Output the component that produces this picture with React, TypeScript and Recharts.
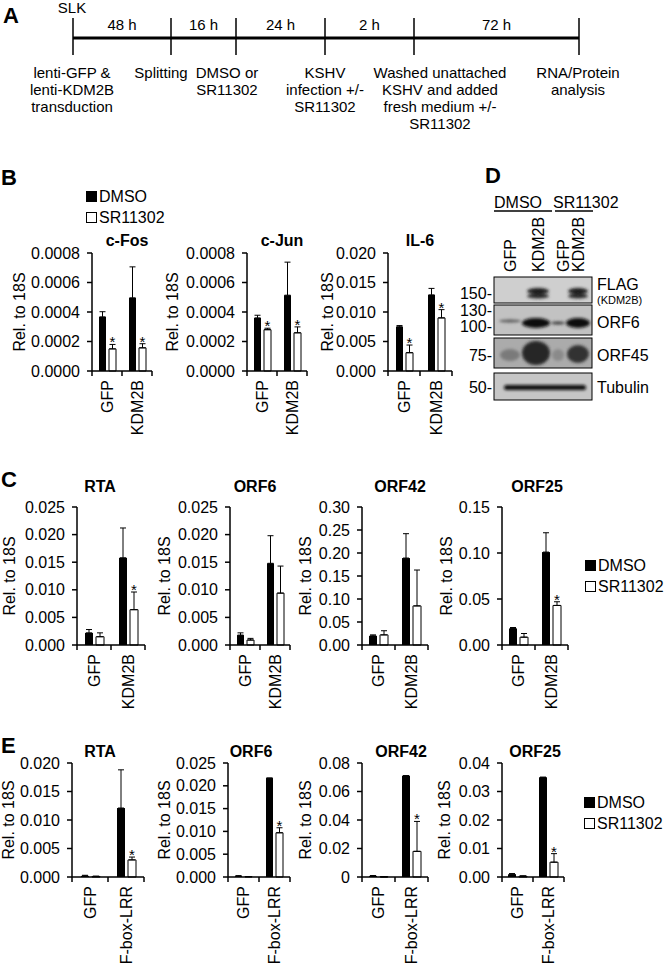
import React from 'react'
import { BarChart, Bar, XAxis, YAxis, ErrorBar, LabelList } from 'recharts'

const FONT = '"Liberation Sans", Arial, Helvetica, sans-serif'

// ---------- panel B ----------
const bCats = ['GFP', 'KDM2B']
const cFosDmso = [0.000367, 0.000496]
const cFosDmsoErr = [0.000035, 0.00021]
const cFosSr = [0.00015, 0.000157]
const cFosSrErr = [0.00003, 0.000028]
const cFosSig = [true, true]

const cJunDmso = [0.00036, 0.000514]
const cJunDmsoErr = [0.000018, 0.000224]
const cJunSr = [0.00028, 0.000259]
const cJunSrErr = [0.00001, 0.00004]
const cJunSig = [true, true]

const il6Dmso = [0.0075, 0.0129]
const il6DmsoErr = [0.0002, 0.0011]
const il6Sr = [0.0031, 0.009]
const il6SrErr = [0.0013, 0.0014]
const il6Sig = [true, true]

const fosJunTicks = ['0.0000', '0.0002', '0.0004', '0.0006', '0.0008']
const il6Ticks = ['0.000', '0.005', '0.010', '0.015', '0.020']

// ---------- panel C ----------
const cCats = ['GFP', 'KDM2B']
const cRtaDmso = [0.0022, 0.0158]
const cRtaDmsoErr = [0.0006, 0.0054]
const cRtaSr = [0.0015, 0.0064]
const cRtaSrErr = [0.0007, 0.0032]
const cRtaSig = [false, true]

const cOrf6Dmso = [0.0018, 0.0148]
const cOrf6DmsoErr = [0.0004, 0.005]
const cOrf6Sr = [0.0009, 0.0094]
const cOrf6SrErr = [0.0003, 0.0049]
const cOrf6Sig = [false, false]

const cOrf42Dmso = [0.02, 0.189]
const cOrf42DmsoErr = [0.002, 0.053]
const cOrf42Sr = [0.022, 0.085]
const cOrf42SrErr = [0.009, 0.078]
const cOrf42Sig = [false, false]

const cOrf25Dmso = [0.018, 0.101]
const cOrf25DmsoErr = [0.001, 0.021]
const cOrf25Sr = [0.0085, 0.043]
const cOrf25SrErr = [0.004, 0.004]
const cOrf25Sig = [false, true]

const smallTicks = ['0.000', '0.005', '0.010', '0.015', '0.020', '0.025']
const cOrf42Ticks = ['0.00', '0.05', '0.10', '0.15', '0.20', '0.25', '0.30']
const cOrf25Ticks = ['0.00', '0.05', '0.10', '0.15']

// ---------- panel E ----------
const eCats = ['GFP', 'F-box-LRR']
const eRtaDmso = [0.0002, 0.0121]
const eRtaDmsoErr = [0.0001, 0.0067]
const eRtaSr = [0.0001, 0.003]
const eRtaSrErr = [0.00005, 0.0005]
const eRtaSig = [false, true]

const eOrf6Dmso = [0.0002, 0.0217]
const eOrf6DmsoErr = [0.0001, 0]
const eOrf6Sr = [0.0001, 0.0097]
const eOrf6SrErr = [0, 0.0011]
const eOrf6Sig = [false, true]

const eOrf42Dmso = [0.0008, 0.0711]
const eOrf42DmsoErr = [0.0002, 0]
const eOrf42Sr = [0.0002, 0.018]
const eOrf42SrErr = [0, 0.021]
const eOrf42Sig = [false, true]

const eOrf25Dmso = [0.001, 0.035]
const eOrf25DmsoErr = [0.0002, 0]
const eOrf25Sr = [0.0003, 0.0052]
const eOrf25SrErr = [0.0001, 0.003]
const eOrf25Sig = [false, true]

const eRtaTicks = ['0.000', '0.005', '0.010', '0.015', '0.020']
const eOrf42Ticks = ['0', '0.02', '0.04', '0.06', '0.08']
const eOrf25Ticks = ['0.00', '0.01', '0.02', '0.03', '0.04']

// ---------- panel A ----------
const timelineTicks = [73, 171, 236, 325, 414, 579]
const durations = ['48 h', '16 h', '24 h', '2 h', '72 h']
const steps = [
  ['lenti-GFP &', 'lenti-KDM2B', 'transduction'],
  ['Splitting'],
  ['DMSO or', 'SR11302'],
  ['KSHV', 'infection +/-', 'SR11302'],
  ['Washed unattached', 'KSHV and added', 'fresh medium +/-', 'SR11302'],
  ['RNA/Protein', 'analysis'],
]
const stepCenters = [72, 161, 227, 325, 440, 578]

// ---------- panel D ----------
const blotLanes = ['GFP', 'KDM2B', 'GFP', 'KDM2B']
const blotMarkers = ['150-', '130-', '100-', '75-', '50-']

interface Spec {
  title: string
  cats: string[]
  dmso: number[]
  dmsoErr: number[]
  sr: number[]
  srErr: number[]
  sig: boolean[]
  ticks: string[]
  ax: number
  top: number
  bottom: number
  w: number
  bar: number
  titleX: number
  titleY: number
  ylabX: number
}

const specs: Spec[] = [
  { title: 'c-Fos', cats: bCats, dmso: cFosDmso, dmsoErr: cFosDmsoErr, sr: cFosSr, srErr: cFosSrErr, sig: cFosSig, ticks: fosJunTicks, ax: 92, top: 253, bottom: 371, w: 60, bar: 7, titleX: 127, titleY: 246, ylabX: 19 },
  { title: 'c-Jun', cats: bCats, dmso: cJunDmso, dmsoErr: cJunDmsoErr, sr: cJunSr, srErr: cJunSrErr, sig: cJunSig, ticks: fosJunTicks, ax: 247, top: 253, bottom: 371, w: 60, bar: 7, titleX: 282, titleY: 246, ylabX: 172 },
  { title: 'IL-6', cats: bCats, dmso: il6Dmso, dmsoErr: il6DmsoErr, sr: il6Sr, srErr: il6SrErr, sig: il6Sig, ticks: il6Ticks, ax: 388, top: 253, bottom: 371, w: 64, bar: 7, titleX: 420, titleY: 246, ylabX: 327 },

  { title: 'RTA', cats: cCats, dmso: cRtaDmso, dmsoErr: cRtaDmsoErr, sr: cRtaSr, srErr: cRtaSrErr, sig: cRtaSig, ticks: smallTicks, ax: 77, top: 507, bottom: 645, w: 68, bar: 8, titleX: 100, titleY: 492, ylabX: 9 },
  { title: 'ORF6', cats: cCats, dmso: cOrf6Dmso, dmsoErr: cOrf6DmsoErr, sr: cOrf6Sr, srErr: cOrf6SrErr, sig: cOrf6Sig, ticks: smallTicks, ax: 230, top: 507, bottom: 645, w: 60, bar: 7, titleX: 255, titleY: 492, ylabX: 164 },
  { title: 'ORF42', cats: cCats, dmso: cOrf42Dmso, dmsoErr: cOrf42DmsoErr, sr: cOrf42Sr, srErr: cOrf42SrErr, sig: cOrf42Sig, ticks: cOrf42Ticks, ax: 362, top: 507, bottom: 645, w: 66, bar: 8, titleX: 400, titleY: 492, ylabX: 305 },
  { title: 'ORF25', cats: cCats, dmso: cOrf25Dmso, dmsoErr: cOrf25DmsoErr, sr: cOrf25Sr, srErr: cOrf25SrErr, sig: cOrf25Sig, ticks: cOrf25Ticks, ax: 502, top: 507, bottom: 645, w: 66, bar: 8, titleX: 537, titleY: 492, ylabX: 446 },

  { title: 'RTA', cats: eCats, dmso: eRtaDmso, dmsoErr: eRtaDmsoErr, sr: eRtaSr, srErr: eRtaSrErr, sig: eRtaSig, ticks: eRtaTicks, ax: 72, top: 763, bottom: 877, w: 72, bar: 8, titleX: 100, titleY: 757, ylabX: 8 },
  { title: 'ORF6', cats: eCats, dmso: eOrf6Dmso, dmsoErr: eOrf6DmsoErr, sr: eOrf6Sr, srErr: eOrf6SrErr, sig: eOrf6Sig, ticks: smallTicks, ax: 228, top: 763, bottom: 877, w: 62, bar: 7, titleX: 251, titleY: 757, ylabX: 164 },
  { title: 'ORF42', cats: eCats, dmso: eOrf42Dmso, dmsoErr: eOrf42DmsoErr, sr: eOrf42Sr, srErr: eOrf42SrErr, sig: eOrf42Sig, ticks: eOrf42Ticks, ax: 362, top: 763, bottom: 877, w: 66, bar: 8, titleX: 401, titleY: 757, ylabX: 305 },
  { title: 'ORF25', cats: eCats, dmso: eOrf25Dmso, dmsoErr: eOrf25DmsoErr, sr: eOrf25Sr, srErr: eOrf25SrErr, sig: eOrf25Sig, ticks: eOrf25Ticks, ax: 502, top: 763, bottom: 877, w: 62, bar: 8, titleX: 535, titleY: 757, ylabX: 444 },
]

const YW = 70
const MT = 12
const MR = 8
const XH = 95

function MiniChart({ s }: { s: Spec }) {
  const plotH = s.bottom - s.top
  const tickVals = s.ticks.map(Number)
  const max = tickVals[tickVals.length - 1]
  const band = s.w / s.cats.length
  const axisY = MT + plotH
  const rows = s.cats.map((c, i) => ({
    cat: c,
    dmso: s.dmso[i],
    dmsoErr: [0, s.dmsoErr[i]],
    sr: s.sr[i],
    srErr: [0, s.srErr[i]],
  }))

  const catTick = (p: any) => {
    const { x, payload, index } = p
    const left = x - band / 2
    return (
      <g>
        <line x1={left} x2={left} y1={axisY} y2={axisY + 5} stroke="#000" strokeWidth={1.5} />
        {index === s.cats.length - 1 && (
          <line x1={x + band / 2} x2={x + band / 2} y1={axisY} y2={axisY + 5} stroke="#000" strokeWidth={1.5} />
        )}
        <text
          transform={`translate(${x},${axisY + 9}) rotate(-90)`}
          textAnchor="end"
          dominantBaseline="central"
          fontSize={16}
          fill="#000"
        >
          {payload.value}
        </text>
      </g>
    )
  }

  // asterisk sits just above the SR11302 error bar cap
  const star = (p: any) => {
    const i = p.index
    if (i == null || !s.sig[i]) return null
    const vb = p.viewBox || {}
    const bx = p.x ?? vb.x
    const bw = p.width ?? vb.width
    const y = MT + plotH * (1 - (s.sr[i] + s.srErr[i]) / max)
    return (
      <text x={bx + bw / 2} y={y + 3} textAnchor="middle" fontSize={15} fill="#000">
        *
      </text>
    )
  }

  return (
    <div style={{ position: 'absolute', left: s.ax - YW, top: s.top - MT, fontFamily: FONT }}>
      <BarChart
        width={YW + s.w + MR}
        height={MT + plotH + XH}
        data={rows}
        margin={{ top: MT, right: MR, bottom: 0, left: 0 }}
        barGap={3}
        barCategoryGap={0}
      >
        <XAxis
          dataKey="cat"
          height={XH}
          interval={0}
          axisLine={{ stroke: '#000', strokeWidth: 1.5 }}
          tickLine={false}
          tick={catTick}
        />
        <YAxis
          width={YW}
          domain={[0, max]}
          ticks={tickVals}
          interval={0}
          tickFormatter={(v: number) => s.ticks[tickVals.indexOf(v)] ?? String(v)}
          tick={{ fontSize: 16, fill: '#000' }}
          tickSize={5}
          tickMargin={7}
          axisLine={{ stroke: '#000', strokeWidth: 1.5 }}
          tickLine={{ stroke: '#000', strokeWidth: 1.5 }}
        />
        <Bar dataKey="dmso" fill="#000" barSize={s.bar} isAnimationActive={false}>
          <ErrorBar dataKey="dmsoErr" width={3} stroke="#000" strokeWidth={1} direction="y" />
        </Bar>
        <Bar dataKey="sr" fill="#fff" stroke="#000" strokeWidth={1} barSize={s.bar} isAnimationActive={false}>
          <ErrorBar dataKey="srErr" width={3} stroke="#000" strokeWidth={1} direction="y" />
          <LabelList dataKey="sr" content={star} />
        </Bar>
      </BarChart>
    </div>
  )
}

function Legend({ x, y }: { x: number; y: number }) {
  return (
    <g fontSize={16}>
      <rect x={x} y={y} width={11} height={11} fill="#000" />
      <text x={x + 13} y={y + 11}>DMSO</text>
      <rect x={x + 0.5} y={y + 21.5} width={10} height={10} fill="#fff" stroke="#000" strokeWidth={1} />
      <text x={x + 13} y={y + 32}>SR11302</text>
    </g>
  )
}

function Overlay() {
  const lanesX = [510, 538, 563, 578]
  const markerY = [293, 310, 326, 355, 387]
  return (
    <svg
      width={666}
      height={972}
      style={{ position: 'absolute', left: 0, top: 0, pointerEvents: 'none', fontFamily: FONT }}
    >
      <defs>
        <filter id="blur" x="-20%" y="-50%" width="140%" height="200%">
          <feGaussianBlur stdDeviation="1.6" />
        </filter>
      </defs>

      {/* panel letters */}
      <g fontSize={22} fontWeight="bold">
        <text x={3} y={23}>A</text>
        <text x={1} y={185}>B</text>
        <text x={1} y={487}>C</text>
        <text x={485} y={183}>D</text>
        <text x={1} y={753}>E</text>
      </g>

      {/* panel A timeline */}
      <g fontSize={15}>
        <text x={72} y={13} textAnchor="middle">SLK</text>
        <line x1={timelineTicks[0]} x2={timelineTicks[timelineTicks.length - 1]} y1={38} y2={38} stroke="#000" strokeWidth={3} />
        {timelineTicks.map((t) => (
          <line key={t} x1={t} x2={t} y1={18} y2={55} stroke="#000" strokeWidth={1.5} />
        ))}
        {durations.map((d, i) => (
          <text key={i} x={(timelineTicks[i] + timelineTicks[i + 1]) / 2} y={30} textAnchor="middle">
            {d}
          </text>
        ))}
        {steps.map((lines, i) =>
          lines.map((l, j) => (
            <text key={`${i}-${j}`} x={stepCenters[i]} y={78 + j * 17} textAnchor="middle">
              {l}
            </text>
          ))
        )}
      </g>

      {/* chart titles and y labels */}
      {specs.map((s, i) => (
        <g key={i} fontSize={16}>
          <text x={s.titleX} y={s.titleY} textAnchor="middle" fontWeight="bold">
            {s.title}
          </text>
          <text
            transform={`translate(${s.ylabX},${(s.top + s.bottom) / 2}) rotate(-90)`}
            textAnchor="middle"
            dominantBaseline="central"
          >
            Rel. to 18S
          </text>
        </g>
      ))}

      <Legend x={86} y={191} />
      <Legend x={585} y={560} />
      <Legend x={584} y={797} />

      {/* panel D western blot */}
      <g fontSize={16}>
        <text x={494} y={208}>DMSO</text>
        <line x1={494} x2={552} y1={211} y2={211} stroke="#000" strokeWidth={1.5} />
        <text x={553} y={208}>SR11302</text>
        <line x1={555} x2={593} y1={211} y2={211} stroke="#000" strokeWidth={1.5} />
        {blotLanes.map((l, i) => (
          <text key={i} transform={`translate(${lanesX[i]},272) rotate(-90)`} dominantBaseline="central">
            {l}
          </text>
        ))}
        {blotMarkers.map((m, i) => (
          <text key={m} x={492} y={markerY[i]} textAnchor="end" dominantBaseline="central">
            {m}
          </text>
        ))}
        <text x={597} y={284} dominantBaseline="central">FLAG</text>
        <text x={597} y={300} fontSize={11} dominantBaseline="central">(KDM2B)</text>
        <text x={597} y={322} dominantBaseline="central">ORF6</text>
        <text x={597} y={355} dominantBaseline="central">ORF45</text>
        <text x={597} y={387} dominantBaseline="central">Tubulin</text>

        {/* blot boxes */}
        <rect x={494} y={277} width={98} height={26} fill="#cfcfcf" />
        <rect x={494} y={305} width={98} height={30} fill="#c2c2c2" />
        <rect x={494} y={338} width={98} height={30} fill="#ababab" />
        <rect x={494} y={373} width={98} height={27} fill="#c6c6c6" />
        <g filter="url(#blur)">
          <ellipse cx={538} cy={291} rx={11} ry={3} fill="#1a1a1a" />
          <ellipse cx={538} cy={296} rx={11} ry={2.5} fill="#2a2a2a" />
          <ellipse cx={578} cy={291} rx={10} ry={3} fill="#1a1a1a" />
          <ellipse cx={578} cy={296} rx={10} ry={2.5} fill="#2a2a2a" />

          <ellipse cx={510} cy={321} rx={11} ry={1.4} fill="#555" />
          <ellipse cx={536} cy={323} rx={14} ry={5} fill="#111" />
          <ellipse cx={558} cy={323} rx={7} ry={1.5} fill="#333" />
          <ellipse cx={578} cy={323} rx={12} ry={5} fill="#111" />

          <ellipse cx={510} cy={355} rx={10} ry={6} fill="#7a7a7a" />
          <ellipse cx={536} cy={353} rx={14} ry={12} fill="#262626" />
          <ellipse cx={558} cy={355} rx={6} ry={6} fill="#8a8a8a" />
          <ellipse cx={578} cy={354} rx={11} ry={9} fill="#333" />

          <rect x={504} y={385} width={82} height={5} rx={2.5} fill="#111" />
        </g>
        <g fill="none" stroke="#000" strokeWidth={1}>
          <rect x={494} y={277} width={98} height={26} />
          <rect x={494} y={305} width={98} height={30} />
          <rect x={494} y={338} width={98} height={30} />
          <rect x={494} y={373} width={98} height={27} />
        </g>
      </g>
    </svg>
  )
}

export default function App() {
  return (
    <div style={{ position: 'absolute', left: 0, top: 0, width: 666, height: 972, background: '#fff', fontFamily: FONT, overflow: 'hidden' }}>
      {specs.map((s, i) => (
        <MiniChart key={i} s={s} />
      ))}
      <Overlay />
    </div>
  )
}
